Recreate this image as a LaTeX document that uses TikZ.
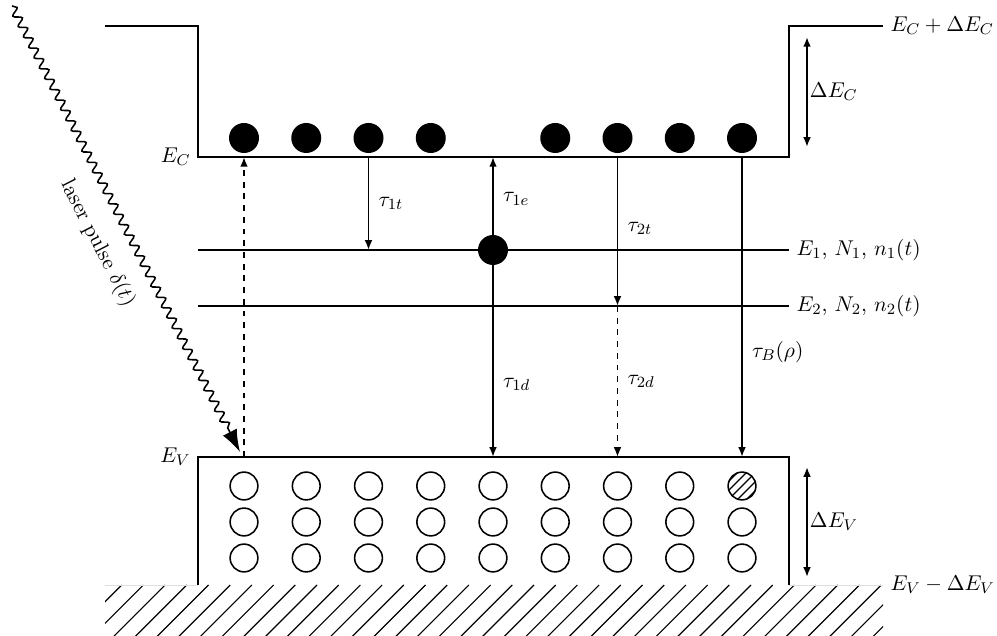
\documentclass[tikz,border=0pt,11pt]{standalone}
\usepackage{amsmath,amssymb}
\usetikzlibrary{arrows.meta,positioning,calc,decorations.pathmorphing}
\tikzset{
    level/.style={line width=1pt, black},
    carrier/.style={circle, fill=black, minimum size=0.54cm, inner sep=0pt},
    hole/.style={circle, draw=black, line width=0.8pt, minimum size=0.5cm, inner sep=0pt},
    rate/.style={line width=1pt, -{Latex[length=5pt,width=4pt]}},
    gap/.style={line width=1pt, {Latex[length=5pt,width=4pt]}-{Latex[length=5pt,width=4pt]}},
    ratelabel/.style={right, xshift=1pt},
    hatch/.style={line width=0.6pt, black},
}

\begin{document}
\begin{tikzpicture}[x=0.018cm, y=0.018cm]
    \useasboundingbox (0,0) rectangle (997,636);
    % Ground below the valence band
    \begin{scope}
        \clip (105,0) rectangle (883,51);
        \foreach \k in {0,...,40} {
            \pgfmathsetmacro{\xh}{121.7+\k*21.7}
            \draw[hatch] (\xh,51) -- ++(-60,-60);
        }
    \end{scope}
    \draw[gray!25, line width=0.5pt] (105,51) -- (198,51);
    \draw[gray!25, line width=0.5pt] (789,51) -- (883,51);
    % Conduction band
    \draw[level] (105,610) -- (198,610) -- (198,479) coordinate (ecL)
        -- (789,479) coordinate (ecR) -- (789,610) -- (883,610) coordinate (ecTop);
    \node[left] (ECl) at (ecL) {$E_C$};
    \node[right] (ECtopl) at (ecTop) {$E_C+\Delta E_C$};
    % Trap levels
    \draw[level] (198,386) coordinate (e1L) -- (789,386) coordinate (e1R);
    \node[right] (E1l) at (e1R) {$E_1$, $N_1$, $n_1(t)$};
    \draw[level] (198,330) coordinate (e2L) -- (789,330) coordinate (e2R);
    \node[right] (E2l) at (e2R) {$E_2$, $N_2$, $n_2(t)$};
    % Valence band
    \draw[level] (198,51) -- (198,179) coordinate (evL)
        -- (789,179) coordinate (evR) -- (789,51) coordinate (evBot);
    \node[left] (EVl) at (evL) {$E_V$};
    \node[right] (EVbotl) at (evBot -| ecTop) {$E_V-\Delta E_V$};
    % Electrons in the conduction band
    \foreach \i in {1,2,3,4,6,7,8,9} {
        \pgfmathsetmacro{\xp}{244+(\i-1)*62.25}
        \node[carrier] (e\i) at (\xp,498) {};
    }
    % Holes in the valence band
    \foreach \i in {1,...,9} {
        \pgfmathsetmacro{\xp}{244+(\i-1)*62.25}
        \foreach \j/\yp in {1/150,2/114,3/78} {
            \node[hole] (h\i\j) at (\xp,\yp) {};
        }
    }
    \begin{scope}
        \clip (h91.center) circle (0.25cm);
        \foreach \k in {-3,...,3} {
            \draw[hatch] ($(h91.center)+(\k*9-20,-20)$) -- ++(40,40);
        }
    \end{scope}
    % Trapped electron
    \node[carrier] (trap) at (493,386) {};
    % Transitions
    \draw[rate, dashed] (h11 |- evL) -- (h11 |- ecL);
    \draw[rate] (e3 |- ecL) -- node[ratelabel] {$\tau_{1t}$} (e3 |- e1L);
    \draw[rate] (trap.center) -- node[ratelabel, pos=0.55] {$\tau_{1e}$} (trap |- ecL);
    \draw[rate] (trap) -- node[ratelabel, pos=0.62] {$\tau_{1d}$} (trap |- evL);
    \draw[rate] (e7 |- ecL) -- node[ratelabel, pos=0.48] {$\tau_{2t}$} (e7 |- e2L);
    \draw[rate, dashed] (e7 |- e2L) -- node[ratelabel] {$\tau_{2d}$} (e7 |- evL);
    \draw[rate] (e9 |- ecL) -- node[ratelabel, pos=0.65] {$\tau_B(\rho)$} (e9 |- evL);
    % Band offsets
    \coordinate (dcTop) at (807,599);
    \coordinate (dcBot) at (807,489);
    \draw[gap] (dcTop) -- node[right, inner sep=1pt] {$\Delta E_C$} (dcBot);
    \coordinate (dvTop) at (807,169);
    \coordinate (dvBot) at (807,59);
    \draw[gap] (dvTop) -- node[right, inner sep=1pt] {$\Delta E_V$} (dvBot);
    % Laser pulse
    \coordinate (laserStart) at (12,630);
    \coordinate (laserEnd) at (240,184);
    \draw[line width=0.8pt, -{Latex[length=0.4cm,width=0.28cm]}, decorate,
        decoration={snake, segment length=0.21cm, amplitude=0.07cm, post length=0.45cm}]
        (laserStart) -- (laserEnd);
    \path (laserStart) -- node[sloped, below=7pt, pos=0.5] {laser pulse $\delta(t)$} (laserEnd);
\end{tikzpicture}
\end{document}
